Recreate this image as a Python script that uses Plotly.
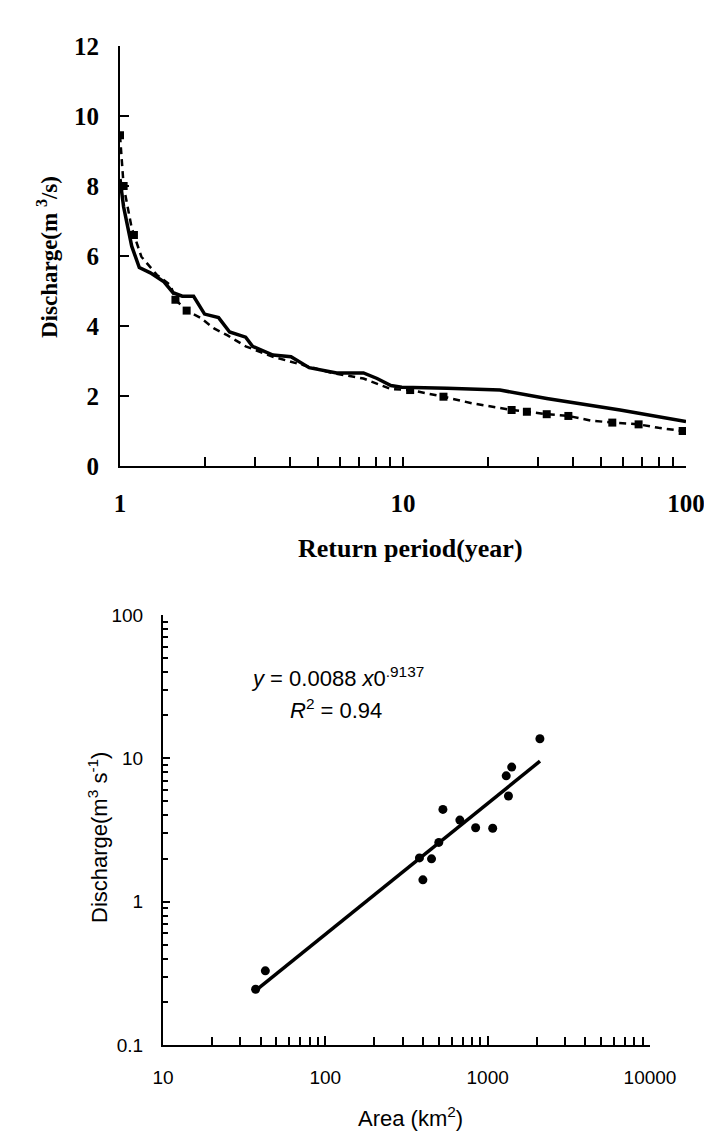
import plotly.graph_objects as go

# ---------------- Top chart: discharge vs return period ----------------
obs_period = [1.0, 1.03, 1.10, 1.17, 1.28, 1.43, 1.54, 1.66, 1.82, 1.99, 2.23, 2.44, 2.78,
              2.94, 3.47, 4.02, 4.66, 5.83, 7.25, 8.1, 9.06, 9.9, 14.3, 22.0, 32.2, 58.5, 100]
obs_discharge = [8.2, 7.4, 6.28, 5.67, 5.52, 5.26, 4.95, 4.85, 4.85, 4.34, 4.24, 3.83, 3.68,
                 3.42, 3.17, 3.12, 2.81, 2.66, 2.66, 2.5, 2.30, 2.25, 2.22, 2.17, 1.93, 1.6, 1.27]

sim_period = [1.0, 1.01, 1.03, 1.10, 1.19, 1.35, 1.51, 1.57, 1.72, 1.92, 2.15, 2.40, 2.78,
              3.47, 4.33, 5.6, 7.25, 8.1, 9.06, 10.6, 13.9, 17.6, 24.2, 27.4, 32.2, 38.4,
              46.0, 54.9, 68.0, 80.0, 97.3]
sim_discharge = [9.45, 9.0, 8.0, 6.8, 5.98, 5.46, 5.16, 4.75, 4.44, 4.24, 3.93, 3.73, 3.42,
                 3.12, 2.91, 2.66, 2.5, 2.35, 2.2, 2.17, 1.98, 1.79, 1.6, 1.55, 1.48, 1.43,
                 1.3, 1.24, 1.19, 1.09, 1.0]

sq_period = [1.0, 1.03, 1.12, 1.57, 1.72, 10.6, 13.9, 24.2, 27.4, 32.2, 38.4, 54.9, 68.0, 97.3]
sq_discharge = [9.45, 8.0, 6.6, 4.75, 4.44, 2.17, 1.98, 1.6, 1.55, 1.48, 1.43, 1.24, 1.19, 1.0]

top_xticks = [1, 10, 100]
top_xticktext = ["1", "10", "100"]
top_yticks = [0, 2, 4, 6, 8, 10, 12]

# ---------------- Bottom chart: discharge vs area ----------------
area_km2 = [37.2, 42.7, 380, 451, 399, 500, 674, 530, 843, 1074, 1343, 1301, 1406, 2098]
area_discharge = [0.245, 0.329, 2.02, 1.99, 1.42, 2.59, 3.71, 4.40, 3.28, 3.25, 5.46, 7.55, 8.69, 13.7]

fit_coef = 0.0088
fit_exp = 0.9137
fit_area = [37, 2100]
fit_discharge = [fit_coef * a ** fit_exp for a in fit_area]

bot_xticks = [10, 100, 1000, 10000]
bot_xticktext = ["10", "100", "1000", "10000"]
bot_yticks = [0.1, 1, 10, 100]
bot_yticktext = ["0.1", "1", "10", "100"]

# page body has an 8px margin: figure is drawn from (8, 8)
OFF = 8
W, H = 712 - OFF, 1133 - OFF
serif = "Liberation Serif"
sans = "Liberation Sans"

fig = go.Figure()

fig.add_trace(go.Scatter(x=obs_period, y=obs_discharge, mode="lines",
                         line=dict(color="black", width=3.5), xaxis="x", yaxis="y",
                         showlegend=False))
fig.add_trace(go.Scatter(x=sim_period, y=sim_discharge, mode="lines",
                         line=dict(color="black", width=2.5, dash="7px,5px"),
                         xaxis="x", yaxis="y", showlegend=False))
fig.add_trace(go.Scatter(x=sq_period, y=sq_discharge, mode="markers",
                         marker=dict(symbol="square", size=8, color="black"),
                         xaxis="x", yaxis="y", showlegend=False))

fig.add_trace(go.Scatter(x=fit_area, y=fit_discharge, mode="lines",
                         line=dict(color="black", width=3.5), xaxis="x2", yaxis="y2",
                         showlegend=False))
fig.add_trace(go.Scatter(x=area_km2, y=area_discharge, mode="markers",
                         marker=dict(symbol="circle", size=9, color="black"),
                         xaxis="x2", yaxis="y2", showlegend=False))

def px_x(p):
    return (p - OFF) / W

def px_y(p):
    return 1 - (p - OFF) / H

common = dict(showline=True, linecolor="black", linewidth=2, showgrid=False,
              zeroline=False, automargin=False, tickcolor="black", tickwidth=1.5)

fig.update_layout(
    width=W, height=H,
    margin=dict(l=0, r=0, t=0, b=0, autoexpand=False),
    paper_bgcolor="white", plot_bgcolor="white",
    xaxis=dict(type="log", range=[0, 2], domain=[px_x(120), px_x(686)], anchor="y",
               tickmode="array", tickvals=top_xticks, ticktext=top_xticktext,
               ticks="inside", ticklen=9,
               minor=dict(ticks="inside", ticklen=9, tickwidth=1.5, tickcolor="black",
                          dtick="D1", showgrid=False),
               tickfont=dict(family=serif, size=25, color="black", weight="bold"),
               ticklabelstandoff=14, **common),
    yaxis=dict(range=[0, 12], domain=[px_y(466), px_y(46)], anchor="x",
               tickmode="array", tickvals=top_yticks,
               ticks="inside", ticklen=9,
               tickfont=dict(family=serif, size=25, color="black", weight="bold"),
               ticklabelstandoff=14, **common),
    xaxis2=dict(type="log", range=[1, 4], domain=[px_x(163), px_x(650)], anchor="y2",
                tickmode="array", tickvals=bot_xticks, ticktext=bot_xticktext,
                ticks="inside", ticklen=9,
                minor=dict(ticks="inside", ticklen=8, tickwidth=1.5, tickcolor="black",
                           dtick="D1", showgrid=False),
                tickfont=dict(family=sans, size=19, color="black"),
                ticklabelstandoff=14, **common),
    yaxis2=dict(type="log", range=[-1, 2], domain=[px_y(1045), px_y(615)], anchor="x2",
                tickmode="array", tickvals=bot_yticks, ticktext=bot_yticktext,
                ticks="inside", ticklen=7,
                minor=dict(ticks="inside", ticklen=5, tickwidth=1.5, tickcolor="black",
                           dtick="D1", showgrid=False),
                tickfont=dict(family=sans, size=19, color="black"),
                ticklabelstandoff=14, **common),
)

annotations = [
    dict(text="<b>Return period(year)</b>", x=px_x(411), y=px_y(548),
         font=dict(family=serif, size=26, color="black")),
    dict(text="<b>Discharge(m <sup>3</sup>/s)</b>", x=px_x(47), y=px_y(257), textangle=-90,
         font=dict(family=serif, size=23, color="black")),
    dict(text="Area (km<sup>2</sup>)", x=px_x(411), y=px_y(1117),
         font=dict(family=sans, size=22, color="black")),
    dict(text="Discharge(m<sup>3</sup> s<sup>-1</sup>)", x=px_x(98), y=px_y(838), textangle=-90,
         font=dict(family=sans, size=22, color="black")),
    dict(text="<i>y</i> = 0.0088 <i>x</i>0<sup>.9137</sup>", x=px_x(337), y=px_y(677),
         font=dict(family=sans, size=22, color="black")),
    dict(text="<i>R</i><sup>2</sup> = 0.94", x=px_x(336), y=px_y(709),
         font=dict(family=sans, size=22, color="black")),
]
for a in annotations:
    a.update(xref="paper", yref="paper", showarrow=False, xanchor="center", yanchor="middle")
fig.update_layout(annotations=annotations)

fig.write_html("out.html")
